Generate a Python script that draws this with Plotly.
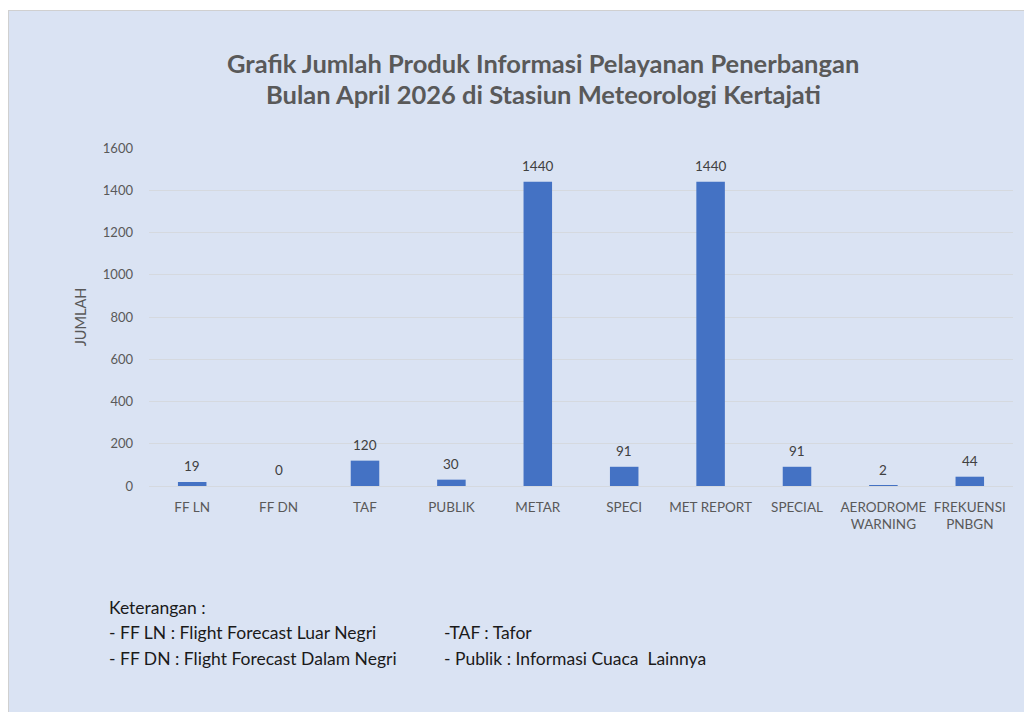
import plotly.graph_objects as go

categories = ["FF LN", "FF DN", "TAF", "PUBLIK", "METAR", "SPECI", "MET REPORT",
              "SPECIAL", "AERODROME<br>WARNING", "FREKUENSI<br>PNBGN"]
values = [19, 0, 120, 30, 1440, 91, 1440, 91, 2, 44]
y_ticks = [0, 200, 400, 600, 800, 1000, 1200, 1400, 1600]

title_lines = ["Grafik Jumlah Produk Informasi Pelayanan Penerbangan",
               "Bulan April 2026 di Stasiun Meteorologi Kertajati"]
notes_col1 = ["Keterangan :", "- FF LN : Flight Forecast Luar Negri",
              "- FF DN : Flight Forecast Dalam Negri"]
notes_col2 = ["", "-TAF : Tafor", "- Publik : Informasi Cuaca  Lainnya"]

W, H = 1024, 712
L, R, T, B = 149, 1013, 148, 486
pw, ph = R - L, B - T

def px(x):
    return (x - L) / pw

def py(y):
    return (B - y) / ph

FONT = "Lato, Carlito, Calibri, sans-serif"
PANEL = "#DAE3F3"
PX0, PY0 = 8, 10  # panel top-left corner on the page

fig = go.Figure()
fig.add_trace(go.Bar(
    x=categories, y=values, width=0.33,
    marker=dict(color="#4472C4", line=dict(width=0)),
    hoverinfo="x+y",
))

annotations = []
for c, v in zip(categories, values):
    annotations.append(dict(
        text=str(v), x=c, y=v, xref="x", yref="y", xanchor="center",
        yanchor="bottom", yshift=6, showarrow=False,
        font=dict(family=FONT, size=13.5, color="#404040")))

title_y = [63, 94]
for i, line in enumerate(title_lines):
    annotations.append(dict(
        text="<b>" + line + "</b>", xref="paper", yref="paper",
        x=px(543), y=py(title_y[i]), xanchor="center", yanchor="middle",
        showarrow=False, font=dict(family=FONT, size=25.5, color="#595959")))

row_y = [607, 632, 658]
for i, (a, b) in enumerate(zip(notes_col1, notes_col2)):
    annotations.append(dict(
        text=a, xref="paper", yref="paper", x=px(107), y=py(row_y[i]),
        xanchor="left", yanchor="middle", showarrow=False,
        font=dict(family=FONT, size=17.5, color="#1a1a1a")))
    if b:
        annotations.append(dict(
            text=b, xref="paper", yref="paper", x=px(442), y=py(row_y[i]),
            xanchor="left", yanchor="middle", showarrow=False,
            font=dict(family=FONT, size=17.5, color="#1a1a1a")))

fig.update_layout(
    width=W, height=H,
    margin=dict(l=L, r=W - R, t=T, b=H - B, pad=0),
    paper_bgcolor=PANEL, plot_bgcolor="rgba(0,0,0,0)",
    showlegend=False,
    annotations=annotations,
    shapes=[
        dict(type="rect", xref="paper", yref="paper", layer="below",
             x0=px(-5), x1=px(W + 5), y0=py(PY0), y1=py(-5),
             fillcolor="white", line=dict(width=0)),
        dict(type="rect", xref="paper", yref="paper", layer="below",
             x0=px(-5), x1=px(PX0), y0=py(H + 5), y1=py(-5),
             fillcolor="white", line=dict(width=0)),
        dict(type="line", xref="paper", yref="paper", layer="below",
             x0=px(PX0 + 0.5), x1=px(PX0 + 0.5), y0=py(PY0), y1=py(H + 5),
             line=dict(color="#d0d0d0", width=1)),
        dict(type="line", xref="paper", yref="paper", layer="below",
             x0=px(PX0), x1=px(W + 5), y0=py(PY0 + 0.5), y1=py(PY0 + 0.5),
             line=dict(color="#d0d0d0", width=1)),
    ],
)
fig.update_xaxes(
    type="category", showgrid=False, showline=False, ticks="",
    tickfont=dict(family=FONT, size=13.5, color="#595959"),
    ticklabelstandoff=11,
)
fig.update_yaxes(
    range=[0, 1600], tickvals=y_ticks, showgrid=True, gridcolor="#d5d9df",
    gridwidth=1, zeroline=True, zerolinecolor="#d5d9df", zerolinewidth=1,
    showline=False, ticks="",
    tickfont=dict(family=FONT, size=13, color="#595959"),
    ticklabelstandoff=15,
    title=dict(text="JUMLAH", font=dict(family=FONT, size=14.5, color="#595959"),
               standoff=12),
)

fig.write_html("out.html",
               config={"displayModeBar": False},
               post_script="document.body.style.margin='0';")
